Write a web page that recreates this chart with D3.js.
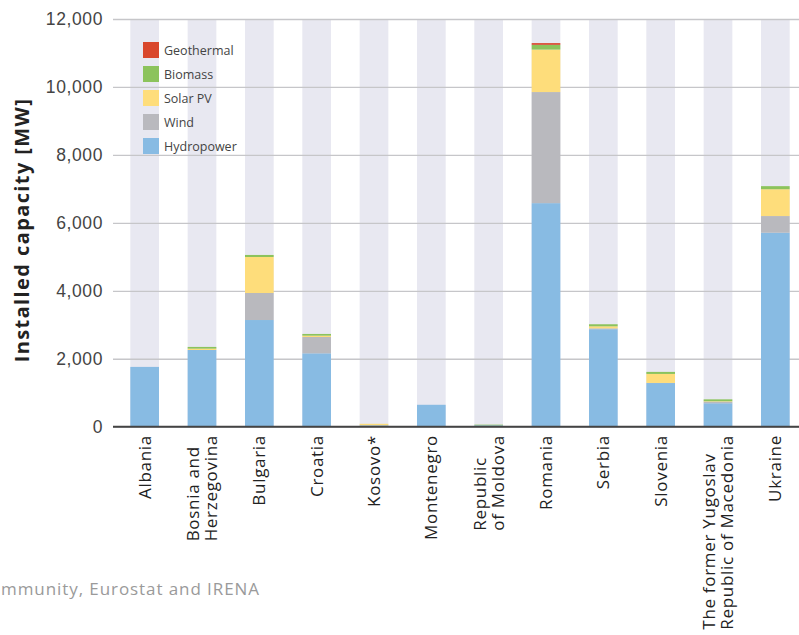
<!DOCTYPE html>
<html>
<head>
<meta charset="utf-8">
<script src="https://cdn.jsdelivr.net/npm/d3@7"></script>
<style>
  body { margin: 0; background: #fff; }
  svg { display: block; font-family: "Open Sans", sans-serif; }
  .tick-label { fill: #444; font-size: 17.5px; letter-spacing: 0.6px; }
  .cat-label { fill: #222; font-size: 17px; letter-spacing: 0.7px; }
  .legend-label { fill: #444; font-size: 12.5px; }
</style>
</head>
<body>
<svg id="chart" width="799" height="635"></svg>
<script>
// countries (line breaks as in the original labels)
var countries = ["Albania", "Bosnia and\nHerzegovina", "Bulgaria", "Croatia", "Kosovo*", "Montenegro",
  "Republic\nof Moldova", "Romania", "Serbia", "Slovenia", "The former Yugoslav\nRepublic of Macedonia", "Ukraine"];

// installed capacity, MW
var hydropower = [1760, 2258, 3140, 2160, 40, 645, 40, 6580, 2870, 1285, 690, 5710];
var wind       = [0, 0, 795, 480, 0, 0, 0, 3270, 25, 3, 45, 490];
var solarPV    = [0, 40, 1060, 40, 45, 0, 0, 1250, 60, 265, 15, 790];
var biomass    = [0, 50, 60, 50, 0, 0, 20, 140, 60, 60, 55, 90];
var geothermal = [0, 0, 0, 0, 0, 0, 0, 50, 0, 0, 0, 0];

var seriesNames = ["Hydropower", "Wind", "Solar PV", "Biomass", "Geothermal"];
var seriesColors = ["#88bbe3", "#b9b9be", "#fedd7b", "#8cc35c", "#d9472c"];
var yTicks = [0, 2000, 4000, 6000, 8000, 10000, 12000];

var svg = d3.select("#chart");

var x = d3.scaleBand()
  .domain(countries)
  .range([116, 804])
  .paddingInner(0.5)
  .paddingOuter(0.25);

var y = d3.scaleLinear()
  .domain([0, 12000])
  .range([426.7, 19]);

var rows = countries.map(function(c, i) {
  return { country: c, "Hydropower": hydropower[i], "Wind": wind[i], "Solar PV": solarPV[i],
    "Biomass": biomass[i], "Geothermal": geothermal[i] };
});
var stacked = d3.stack().keys(seriesNames)(rows);

// grey background columns
svg.append("g").selectAll("rect")
  .data(countries).enter()
  .append("rect")
    .attr("x", function(d) { return x(d); })
    .attr("y", y(12000))
    .attr("width", x.bandwidth())
    .attr("height", y(0) - y(12000))
    .attr("fill", "#e8e8f1");

// gridlines + tick labels
var yAxis = svg.append("g")
  .attr("transform", "translate(113,0)")
  .call(d3.axisLeft(y).tickValues(yTicks).tickSize(-686).tickFormat(d3.format(",")).tickPadding(10));
yAxis.select(".domain").remove();
yAxis.selectAll(".tick line").attr("stroke", "#c6c6c9").attr("stroke-width", 1.3);
yAxis.selectAll(".tick text").attr("class", "tick-label").attr("font-family", null).attr("font-size", null);

// stacked bars
svg.append("g").selectAll("g")
  .data(stacked).enter()
  .append("g")
    .attr("fill", function(d, i) { return seriesColors[i]; })
  .selectAll("rect")
  .data(function(d) { return d; }).enter()
  .append("rect")
    .attr("x", function(d) { return x(d.data.country); })
    .attr("y", function(d) { return y(d[1]); })
    .attr("width", x.bandwidth())
    .attr("height", function(d) { return y(d[0]) - y(d[1]); });

// base line
svg.append("line")
  .attr("x1", 113).attr("x2", 799)
  .attr("y1", y(0)).attr("y2", y(0))
  .attr("stroke", "#444").attr("stroke-width", 2);

// category labels, rotated, block top at y=435
var labels = svg.append("g").selectAll("g")
  .data(countries).enter()
  .append("g")
    .attr("transform", function(d) { return "translate(" + (x(d) + x.bandwidth() / 2) + ",435) rotate(-90)"; });

labels.each(function(d) {
  var lines = d.split("\n");
  var g = d3.select(this);
  var t = g.append("text").attr("class", "cat-label");
  var lh = 18;
  lines.forEach(function(line, i) {
    t.append("tspan")
      .attr("y", 6 + (i - (lines.length - 1) / 2) * lh)
      .text(line);
  });
  var w = d3.max(t.selectAll("tspan").nodes(), function(n) { return n.getComputedTextLength(); });
  t.selectAll("tspan").attr("x", -w);
});

// y axis title
svg.append("text")
  .attr("transform", "translate(29,230) rotate(-90)")
  .attr("text-anchor", "middle")
  .attr("font-size", "20px")
  .attr("font-weight", "bold")
  .attr("letter-spacing", "1.4px")
  .attr("fill", "#222")
  .text("Installed capacity [MW]");

// legend (top first)
var legendOrder = seriesNames.slice().reverse();
var legend = svg.append("g").selectAll("g")
  .data(legendOrder).enter()
  .append("g")
    .attr("transform", function(d, i) { return "translate(143," + (42 + i * 24) + ")"; });

legend.append("rect")
  .attr("width", 16).attr("height", 16)
  .attr("fill", function(d) { return seriesColors[seriesNames.indexOf(d)]; });

legend.append("text")
  .attr("class", "legend-label")
  .attr("x", 21).attr("y", 12.5)
  .text(function(d) { return d; });

// source note (only the part visible in the original crop)
svg.append("text")
  .attr("x", 1).attr("y", 595)
  .attr("font-size", "17px")
  .attr("fill", "#9a9a9a")
  .attr("textLength", 258)
  .attr("lengthAdjust", "spacing")
  .text("mmunity, Eurostat and IRENA");
</script>
</body>
</html>
